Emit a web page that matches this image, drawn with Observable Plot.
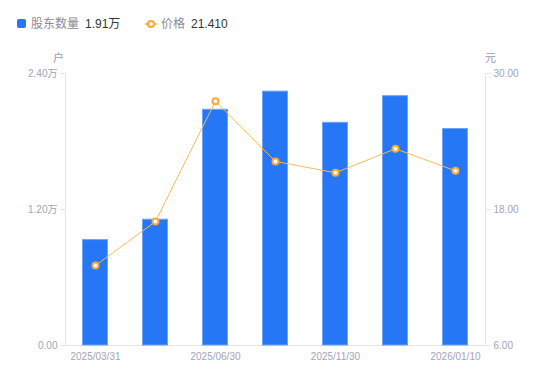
<!DOCTYPE html>
<html>
<head>
<meta charset="utf-8">
<script src="https://cdn.jsdelivr.net/npm/d3@7"></script>
<script src="https://cdn.jsdelivr.net/npm/@observablehq/plot@0.6"></script>
<style>
  html, body { margin: 0; padding: 0; background: #fff; }
  #wrap { position: relative; width: 550px; height: 381px; font-family: "Liberation Sans", "Noto Sans CJK SC", sans-serif; }
  #chart { position: absolute; left: 0; top: 0; }
  .lg { position: absolute; top: 16px; font-size: 12px; line-height: 17px; white-space: nowrap; }
  .lab { color: #8a8a96; }
  .val { color: #333; margin-left: 6px; }
  .unit { position: absolute; top: 49px; font-size: 11px; color: #9a9aae; }
</style>
</head>
<body>
<div id="wrap">
  <div id="chart"></div>
  <div class="lg" style="left:17px;">
    <span style="display:inline-block;width:9px;height:9px;background:#2577f5;border-radius:2px;vertical-align:-0px;margin-right:5px;"></span><span class="lab">股东数量</span><span class="val">1.91万</span>
  </div>
  <div class="lg" style="left:145px;">
    <svg width="12" height="10" style="vertical-align:-1px;margin-right:4px;"><line x1="0" y1="5" x2="12" y2="5" stroke="#f7a83a" stroke-width="1.5"/><circle cx="6" cy="5" r="3" fill="#fff" stroke="#f7a83a" stroke-width="2"/></svg><span class="lab">价格</span><span class="val">21.410</span>
  </div>
  <div class="unit" style="left:53px;">户</div>
  <div class="unit" style="left:485px;">元</div>
</div>
<script>
const dates = ["2025/03/31", "2025/04/30", "2025/06/30", "2025/09/30", "2025/11/30", "2025/12/31", "2026/01/10"];
const holders = [0.93, 1.11, 2.08, 2.24, 1.965, 2.20, 1.91]; // 万户
const prices = [13.06, 16.94, 27.56, 22.24, 21.24, 23.36, 21.41]; // 元
const leftTicks = [0, 1.2, 2.4];
const leftTickLabels = ["0.00", "1.20万", "2.40万"];
const rightTicks = [6, 18, 30];
const shownDates = ["2025/03/31", "2025/06/30", "2025/11/30", "2026/01/10"];

const pMin = 6, pMax = 30, hMax = 2.4;
const toY = p => (p - pMin) / (pMax - pMin) * hMax;
const fromY = y => y / hMax * (pMax - pMin) + pMin;

const data = dates.map((d, i) => ({date: d, holders: holders[i], price: prices[i], py: toY(prices[i])}));

const axisColor = "#e3e3e8";
const tickColor = "#a3a3b6";

const plot = Plot.plot({
  width: 550,
  height: 381,
  marginTop: 73,
  marginBottom: 36,
  marginLeft: 65,
  marginRight: 65,
  style: {fontFamily: "'Liberation Sans', 'Noto Sans CJK SC', sans-serif", fontSize: "10px", color: tickColor, background: "transparent"},
  x: {type: "band", domain: dates, padding: 0, label: null},
  y: {domain: [0, hMax], label: null},
  marks: [
    Plot.ruleY([0], {stroke: axisColor}),
    Plot.ruleX([dates[0]], {y1: 0, y2: hMax, dx: -30, stroke: axisColor}),
    Plot.ruleX([dates[dates.length - 1]], {y1: 0, y2: hMax, dx: 30, stroke: axisColor}),
    Plot.barY(data, {x: "date", y: "holders", fill: "#2577f5", stroke: "#6fa3f8", strokeWidth: 1, insetLeft: 17.5, insetRight: 17.5}),
    Plot.line(data, {x: "date", y: "py", stroke: "#f9ba55", strokeWidth: 1}),
    Plot.dot(data, {x: "date", y: "py", r: 3, fill: "#fff", stroke: "#f7a83a", strokeWidth: 2}),
    Plot.axisY(leftTicks, {anchor: "left", tickSize: 5, tickPadding: 3, stroke: axisColor, fill: tickColor, tickFormat: (d, i) => leftTickLabels[leftTicks.indexOf(d)]}),
    Plot.axisY(rightTicks.map(toY), {anchor: "right", tickSize: 5, tickPadding: 3, stroke: axisColor, fill: tickColor, tickFormat: d => fromY(d).toFixed(2)}),
    Plot.axisX(shownDates, {anchor: "bottom", tickSize: 0, tickPadding: 7, fill: tickColor})
  ]
});
document.getElementById("chart").appendChild(plot);
</script>
</body>
</html>
